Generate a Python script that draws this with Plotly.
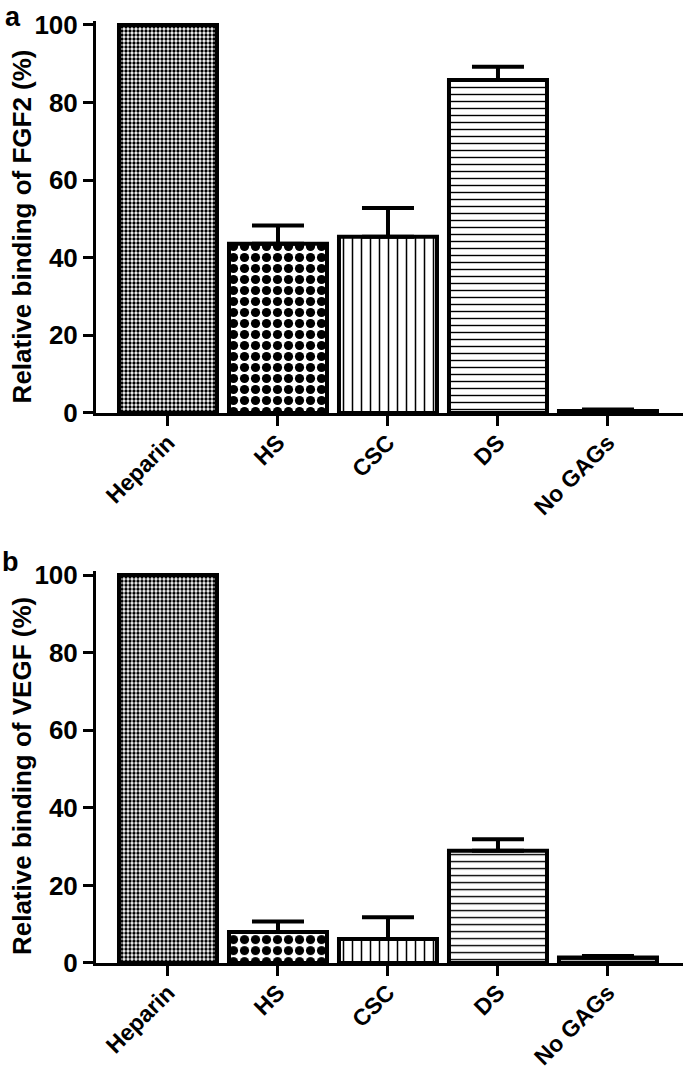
import plotly.graph_objects as go

categories = ["Heparin", "HS", "CSC", "DS", "No GAGs"]

fgf2_values = [100, 43.6, 45.4, 85.8, 0.5]
fgf2_errors = [0, 4.7, 7.4, 3.4, 0.4]

vegf_values = [100, 8.0, 6.2, 28.9, 1.4]
vegf_errors = [0, 2.7, 5.6, 3.0, 0.4]

pattern_shapes = [".", ".", "|", "-", "-"]
pattern_sizes = [4, 11, 9, 7, 7]
pattern_solidity = [0.55, 0.55, 0.17, 0.2, 0.2]

FONT = "Liberation Sans, Arial, sans-serif"

fig = go.Figure()

def add_bars(vals, errs, xa, ya):
    fig.add_trace(go.Bar(
        x=categories, y=vals, xaxis=xa, yaxis=ya,
        marker=dict(
            color="white",
            line=dict(color="black", width=4),
            pattern=dict(shape=pattern_shapes, size=pattern_sizes,
                         solidity=pattern_solidity, fgcolor="black",
                         bgcolor="white", fillmode="replace"),
        ),
        error_y=dict(type="data", array=errs, arrayminus=[0] * len(errs),
                     symmetric=False, color="black", thickness=4, width=26),
        showlegend=False, hoverinfo="skip",
    ))

add_bars(fgf2_values, fgf2_errors, "x", "y")
add_bars(vegf_values, vegf_errors, "x2", "y2")

axis_common = dict(
    showline=True, linecolor="black", linewidth=3,
    ticks="outside", ticklen=10, tickwidth=3, tickcolor="black",
    showgrid=False, zeroline=False, automargin=False,
)
ytick_font = dict(family=FONT, size=26, color="black", weight="bold")
xtick_font = dict(family=FONT, size=23, color="black", weight="bold")

xr = [-0.6545, 4.682]
yticks = [0, 20, 40, 60, 80, 100]
fig.update_layout(
    width=685, height=1071,
    margin=dict(l=96, r=2, t=21, b=108),
    plot_bgcolor="white", paper_bgcolor="white",
    bargap=0.109,
    xaxis=dict(domain=[0, 1], range=xr, anchor="y", tickangle=-45,
               ticklabelstandoff=-6, tickfont=xtick_font, **axis_common),
    yaxis=dict(domain=[0.5839, 1], range=[0, 101], anchor="x",
               tickvals=yticks, tickfont=ytick_font, **axis_common),
    xaxis2=dict(domain=[0, 1], range=xr, anchor="y2", tickangle=-45,
                ticklabelstandoff=-6, tickfont=xtick_font, **axis_common),
    yaxis2=dict(domain=[0, 0.4160], range=[0, 101], anchor="x2",
                tickvals=yticks, tickfont=ytick_font, **axis_common),
)

title_font = dict(family=FONT, size=26, color="black", weight="bold")
fig.add_annotation(text="Relative binding of FGF2 (%)", xref="paper", yref="paper",
                   x=-0.126, y=0.782, textangle=-90, showarrow=False,
                   xanchor="center", yanchor="middle", font=title_font)
fig.add_annotation(text="Relative binding of VEGF (%)", xref="paper", yref="paper",
                   x=-0.126, y=0.1985, textangle=-90, showarrow=False,
                   xanchor="center", yanchor="middle", font=title_font)

label_font = dict(family=FONT, size=27, color="black", weight="bold")
fig.add_annotation(text="a", xref="paper", yref="paper", x=-0.1414, y=1.0223,
                   showarrow=False, xanchor="center", yanchor="top", font=label_font)
fig.add_annotation(text="b", xref="paper", yref="paper", x=-0.1465, y=0.4442,
                   showarrow=False, xanchor="center", yanchor="top", font=label_font)

fig.write_html("out.html", config={"displayModeBar": False},
               post_script="document.body.style.margin='0';")
